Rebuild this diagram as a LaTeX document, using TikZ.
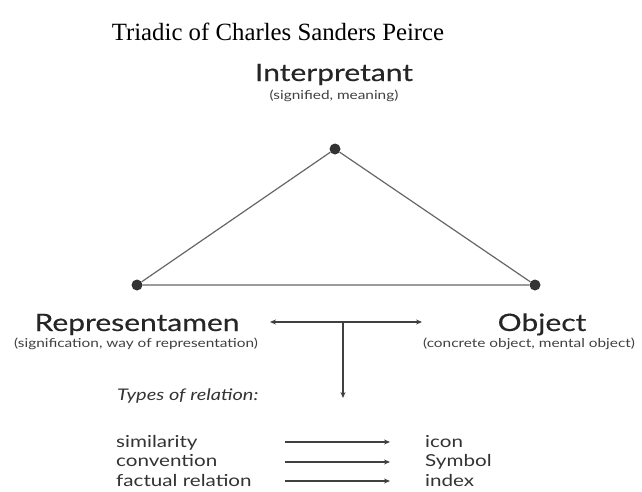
\documentclass[tikz,border=0pt]{standalone}
\usepackage{fontspec}
\setmainfont{Liberation Serif}
\newfontfamily\gill[FakeStretch=1.25,FakeBold=0.4]{Lato}
\newfontfamily\gillsub[FakeStretch=1.25]{Lato}
\usetikzlibrary{arrows.meta}
\begin{document}
\begin{tikzpicture}[x=1pt,y=-1pt,
  dot/.style={circle,fill=black!80,inner sep=0pt,minimum size=11pt},
  edge/.style={draw=black!60,line width=1.2pt},
  arr/.style={draw=black!75,line width=1.2pt,-{Stealth[length=6pt,width=5pt]}},
  big/.style={font=\gill\fontsize{24}{28}\selectfont,inner sep=0pt,text=black!85,anchor=base},
  sub/.style={font=\gillsub\fontsize{12.3}{14}\selectfont,inner sep=0pt,text=black!75,anchor=base},
  item/.style={font=\gillsub\fontsize{16.5}{19}\selectfont,inner sep=0pt,text=black!80,anchor=base west}]
\useasboundingbox (0,0) rectangle (642,491);
\node[font=\fontsize{24.8}{28}\selectfont,inner sep=0pt,anchor=base] (title) at (278,40) {Triadic of Charles Sanders Peirce};
\node[big] (interp) at (334,81) {Interpretant};
\node[sub] (interpsub) at (334,99) {(signified, meaning)};
\node[dot] (top) at (335,149) {};
\node[dot] (left) at (137,285) {};
\node[dot] (right) at (535,285) {};
\draw[edge] (top) -- (left) -- (right) -- (top);
\node[big] (rep) at (137,331) {Representamen};
\node[sub] (repsub) at (136,347) {(signification, way of representation)};
\node[big] (obj) at (542,331) {Object};
\node[sub] (objsub) at (529,347) {(concrete object, mental object)};
\coordinate (ra) at (270,322);
\coordinate (rb) at (422,322);
\coordinate (vt) at (343,322);
\coordinate (vb) at (343,398);
\draw[arr,{Stealth[length=6pt,width=5pt]}-{Stealth[length=6pt,width=5pt]}] (ra) -- (rb);
\draw[arr] (vt) -- (vb);
\node[item,font=\gillsub\itshape\fontsize{16}{19}\selectfont] (types) at (117,400) {Types of relation:};
\node[item] (sim) at (116,447) {similarity};
\node[item] (conv) at (116,466) {convention};
\node[item] (fact) at (116,486) {factual relation};
\node[item] (icon) at (425,447) {icon};
\node[item] (sym) at (425,466) {Symbol};
\node[item] (idx) at (425,486) {index};
\coordinate (a1) at (285,442); \coordinate (b1) at (390,442);
\coordinate (a2) at (285,462); \coordinate (b2) at (390,462);
\coordinate (a3) at (285,481); \coordinate (b3) at (390,481);
\draw[arr] (a1) -- (b1);
\draw[arr] (a2) -- (b2);
\draw[arr] (a3) -- (b3);
\end{tikzpicture}
\end{document}
